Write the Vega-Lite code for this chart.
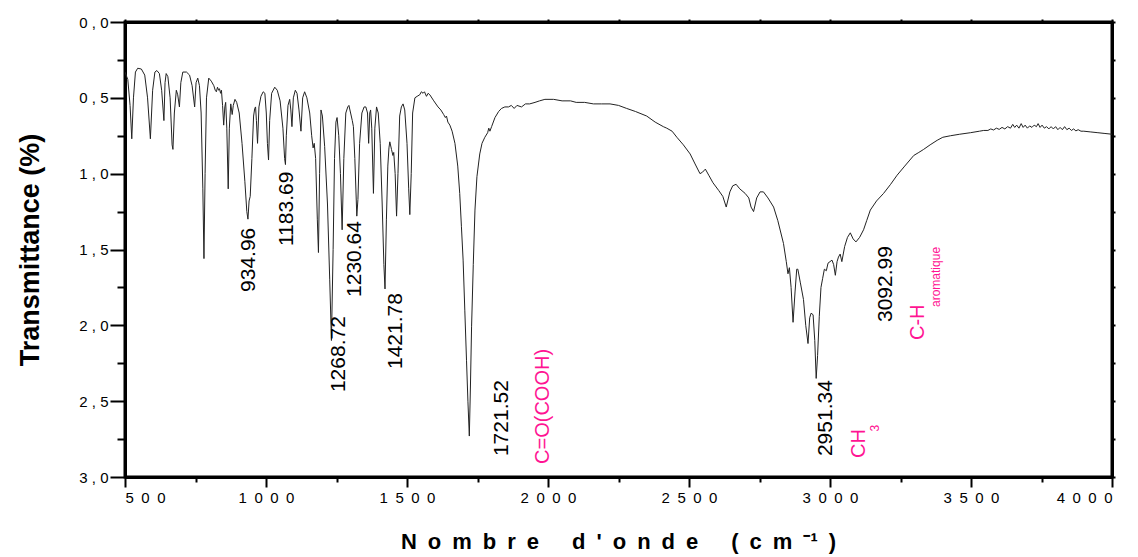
{
  "$schema": "https://vega.github.io/schema/vega-lite/v6.json",
  "autosize": "none",
  "width": 987,
  "height": 455,
  "padding": {"left": 125, "top": 22, "right": 26, "bottom": 80},
  "background": "white",
  "config": {
    "view": {"stroke": "black", "strokeWidth": 3},
    "font": "Liberation Sans",
    "axis": {"grid": false, "domainColor": "black", "domainWidth": 3, "tickColor": "black", "tickWidth": 2, "labelFont": "Liberation Sans", "titleFont": "Liberation Sans", "labelColor": "black", "titleColor": "black"}
  },
  "resolve": {"axis": {"x": "independent", "y": "independent"}},
  "layer": [
    {
      "data": {"values": [
        {"wn":500,"t":0.33},{"wn":510,"t":0.38},{"wn":518,"t":0.55},{"wn":524,"t":0.77},{"wn":530,"t":0.5},{"wn":537,"t":0.33},{"wn":545,"t":0.305},{"wn":558,"t":0.31},{"wn":570,"t":0.35},{"wn":580,"t":0.5},{"wn":590,"t":0.77},{"wn":598,"t":0.45},{"wn":606,"t":0.33},{"wn":613,"t":0.32},{"wn":622,"t":0.34},{"wn":630,"t":0.45},{"wn":638,"t":0.65},{"wn":642,"t":0.4},{"wn":646,"t":0.34},{"wn":652,"t":0.36},{"wn":660,"t":0.5},{"wn":667,"t":0.81},{"wn":670,"t":0.84},{"wn":675,"t":0.6},{"wn":682,"t":0.45},{"wn":687,"t":0.48},{"wn":693,"t":0.56},{"wn":698,"t":0.4},{"wn":705,"t":0.33},{"wn":718,"t":0.33},{"wn":729,"t":0.35},{"wn":738,"t":0.42},{"wn":747,"t":0.56},{"wn":752,"t":0.4},{"wn":758,"t":0.37},{"wn":764,"t":0.42},{"wn":770,"t":0.6},{"wn":776,"t":1.1},{"wn":780,"t":1.56},{"wn":784,"t":1.0},{"wn":789,"t":0.5},{"wn":797,"t":0.37},{"wn":806,"t":0.39},{"wn":815,"t":0.42},{"wn":820,"t":0.45},{"wn":824,"t":0.46},{"wn":828,"t":0.43},{"wn":832,"t":0.45},{"wn":835,"t":0.44},{"wn":839,"t":0.47},{"wn":842,"t":0.45},{"wn":846,"t":0.55},{"wn":850,"t":0.68},{"wn":854,"t":0.56},{"wn":857,"t":0.53},{"wn":861,"t":0.7},{"wn":866,"t":1.1},{"wn":870,"t":0.7},{"wn":875,"t":0.54},{"wn":878,"t":0.58},{"wn":880,"t":0.61},{"wn":884,"t":0.55},{"wn":890,"t":0.51},{"wn":896,"t":0.53},{"wn":905,"t":0.6},{"wn":915,"t":0.8},{"wn":925,"t":1.05},{"wn":932,"t":1.25},{"wn":936,"t":1.3},{"wn":940,"t":1.18},{"wn":944,"t":1.15},{"wn":950,"t":0.9},{"wn":956,"t":0.62},{"wn":960,"t":0.57},{"wn":963,"t":0.56},{"wn":966,"t":0.65},{"wn":970,"t":0.8},{"wn":975,"t":0.56},{"wn":982,"t":0.49},{"wn":990,"t":0.46},{"wn":996,"t":0.47},{"wn":1001,"t":0.6},{"wn":1005,"t":0.8},{"wn":1009,"t":0.91},{"wn":1013,"t":0.65},{"wn":1020,"t":0.47},{"wn":1031,"t":0.43},{"wn":1040,"t":0.45},{"wn":1050,"t":0.52},{"wn":1060,"t":0.7},{"wn":1066,"t":0.9},{"wn":1069,"t":0.94},{"wn":1072,"t":0.75},{"wn":1078,"t":0.55},{"wn":1084,"t":0.51},{"wn":1088,"t":0.58},{"wn":1092,"t":0.69},{"wn":1097,"t":0.5},{"wn":1104,"t":0.45},{"wn":1110,"t":0.47},{"wn":1117,"t":0.58},{"wn":1124,"t":0.72},{"wn":1130,"t":0.5},{"wn":1137,"t":0.46},{"wn":1145,"t":0.5},{"wn":1155,"t":0.6},{"wn":1162,"t":0.75},{"wn":1167,"t":0.83},{"wn":1171,"t":0.8},{"wn":1176,"t":0.9},{"wn":1182,"t":1.3},{"wn":1186,"t":1.52},{"wn":1190,"t":1.0},{"wn":1195,"t":0.58},{"wn":1200,"t":0.62},{"wn":1208,"t":0.82},{"wn":1218,"t":1.2},{"wn":1226,"t":1.7},{"wn":1232,"t":2.1},{"wn":1238,"t":1.5},{"wn":1243,"t":0.9},{"wn":1248,"t":0.66},{"wn":1252,"t":0.63},{"wn":1258,"t":0.75},{"wn":1264,"t":1.0},{"wn":1270,"t":1.37},{"wn":1276,"t":0.9},{"wn":1283,"t":0.6},{"wn":1290,"t":0.56},{"wn":1294,"t":0.55},{"wn":1300,"t":0.6},{"wn":1306,"t":0.65},{"wn":1310,"t":0.69},{"wn":1315,"t":0.9},{"wn":1322,"t":1.28},{"wn":1326,"t":1.17},{"wn":1332,"t":0.8},{"wn":1340,"t":0.6},{"wn":1348,"t":0.56},{"wn":1354,"t":0.56},{"wn":1360,"t":0.6},{"wn":1364,"t":0.8},{"wn":1368,"t":0.6},{"wn":1371,"t":0.58},{"wn":1375,"t":0.7},{"wn":1381,"t":1.13},{"wn":1386,"t":0.7},{"wn":1392,"t":0.56},{"wn":1398,"t":0.6},{"wn":1405,"t":0.8},{"wn":1412,"t":1.2},{"wn":1418,"t":1.6},{"wn":1422,"t":1.76},{"wn":1427,"t":1.3},{"wn":1432,"t":0.95},{"wn":1436,"t":0.83},{"wn":1439,"t":0.79},{"wn":1445,"t":0.84},{"wn":1450,"t":0.88},{"wn":1453,"t":0.86},{"wn":1458,"t":1.0},{"wn":1463,"t":1.28},{"wn":1468,"t":1.0},{"wn":1474,"t":0.62},{"wn":1480,"t":0.56},{"wn":1486,"t":0.54},{"wn":1492,"t":0.58},{"wn":1500,"t":0.8},{"wn":1506,"t":1.1},{"wn":1510,"t":1.27},{"wn":1515,"t":1.0},{"wn":1520,"t":0.6},{"wn":1528,"t":0.5},{"wn":1536,"t":0.49},{"wn":1545,"t":0.48},{"wn":1551,"t":0.46},{"wn":1557,"t":0.47},{"wn":1562,"t":0.46},{"wn":1569,"t":0.49},{"wn":1575,"t":0.47},{"wn":1581,"t":0.48},{"wn":1595,"t":0.52},{"wn":1610,"t":0.56},{"wn":1620,"t":0.58},{"wn":1630,"t":0.61},{"wn":1636,"t":0.63},{"wn":1640,"t":0.62},{"wn":1645,"t":0.66},{"wn":1652,"t":0.68},{"wn":1660,"t":0.72},{"wn":1670,"t":0.8},{"wn":1680,"t":0.95},{"wn":1687,"t":1.13},{"wn":1693,"t":1.35},{"wn":1699,"t":1.57},{"wn":1705,"t":1.9},{"wn":1711,"t":2.23},{"wn":1716,"t":2.5},{"wn":1721,"t":2.73},{"wn":1725,"t":2.4},{"wn":1729,"t":2.01},{"wn":1735,"t":1.6},{"wn":1741,"t":1.24},{"wn":1748,"t":1.02},{"wn":1758,"t":0.87},{"wn":1766,"t":0.8},{"wn":1776,"t":0.76},{"wn":1786,"t":0.73},{"wn":1790,"t":0.7},{"wn":1794,"t":0.72},{"wn":1800,"t":0.69},{"wn":1812,"t":0.63},{"wn":1825,"t":0.59},{"wn":1835,"t":0.57},{"wn":1847,"t":0.56},{"wn":1860,"t":0.56},{"wn":1870,"t":0.55},{"wn":1880,"t":0.57},{"wn":1890,"t":0.55},{"wn":1906,"t":0.56},{"wn":1920,"t":0.54},{"wn":1935,"t":0.54},{"wn":1954,"t":0.53},{"wn":1970,"t":0.52},{"wn":1989,"t":0.51},{"wn":2020,"t":0.51},{"wn":2050,"t":0.52},{"wn":2080,"t":0.52},{"wn":2100,"t":0.53},{"wn":2130,"t":0.53},{"wn":2161,"t":0.54},{"wn":2190,"t":0.54},{"wn":2220,"t":0.54},{"wn":2250,"t":0.55},{"wn":2279,"t":0.57},{"wn":2310,"t":0.59},{"wn":2350,"t":0.62},{"wn":2380,"t":0.66},{"wn":2409,"t":0.69},{"wn":2421,"t":0.7},{"wn":2440,"t":0.72},{"wn":2457,"t":0.76},{"wn":2480,"t":0.81},{"wn":2504,"t":0.87},{"wn":2520,"t":0.93},{"wn":2539,"t":1.0},{"wn":2548,"t":0.99},{"wn":2558,"t":0.97},{"wn":2570,"t":1.01},{"wn":2585,"t":1.06},{"wn":2605,"t":1.11},{"wn":2620,"t":1.15},{"wn":2632,"t":1.22},{"wn":2645,"t":1.12},{"wn":2655,"t":1.08},{"wn":2667,"t":1.07},{"wn":2680,"t":1.1},{"wn":2699,"t":1.13},{"wn":2712,"t":1.16},{"wn":2720,"t":1.22},{"wn":2729,"t":1.25},{"wn":2740,"t":1.16},{"wn":2752,"t":1.12},{"wn":2764,"t":1.12},{"wn":2780,"t":1.16},{"wn":2800,"t":1.22},{"wn":2815,"t":1.31},{"wn":2835,"t":1.46},{"wn":2845,"t":1.58},{"wn":2851,"t":1.66},{"wn":2856,"t":1.62},{"wn":2862,"t":1.75},{"wn":2869,"t":1.98},{"wn":2876,"t":1.78},{"wn":2882,"t":1.63},{"wn":2886,"t":1.63},{"wn":2895,"t":1.72},{"wn":2906,"t":1.83},{"wn":2914,"t":2.0},{"wn":2922,"t":2.12},{"wn":2928,"t":1.95},{"wn":2933,"t":1.92},{"wn":2940,"t":1.93},{"wn":2946,"t":2.1},{"wn":2951,"t":2.35},{"wn":2956,"t":2.2},{"wn":2962,"t":1.94},{"wn":2968,"t":1.75},{"wn":2974,"t":1.69},{"wn":2980,"t":1.63},{"wn":2987,"t":1.64},{"wn":2993,"t":1.59},{"wn":3000,"t":1.58},{"wn":3007,"t":1.57},{"wn":3013,"t":1.6},{"wn":3019,"t":1.67},{"wn":3025,"t":1.58},{"wn":3030,"t":1.55},{"wn":3036,"t":1.53},{"wn":3042,"t":1.58},{"wn":3052,"t":1.48},{"wn":3062,"t":1.42},{"wn":3072,"t":1.39},{"wn":3082,"t":1.43},{"wn":3092,"t":1.45},{"wn":3105,"t":1.42},{"wn":3119,"t":1.37},{"wn":3130,"t":1.31},{"wn":3143,"t":1.24},{"wn":3165,"t":1.18},{"wn":3190,"t":1.13},{"wn":3215,"t":1.07},{"wn":3238,"t":1.01},{"wn":3265,"t":0.95},{"wn":3297,"t":0.88},{"wn":3315,"t":0.86},{"wn":3332,"t":0.84},{"wn":3355,"t":0.81},{"wn":3380,"t":0.78},{"wn":3400,"t":0.76},{"wn":3427,"t":0.75},{"wn":3460,"t":0.74},{"wn":3498,"t":0.73},{"wn":3530,"t":0.72},{"wn":3545,"t":0.715},{"wn":3560,"t":0.715},{"wn":3570,"t":0.705},{"wn":3580,"t":0.712},{"wn":3590,"t":0.7},{"wn":3600,"t":0.708},{"wn":3610,"t":0.695},{"wn":3620,"t":0.705},{"wn":3630,"t":0.69},{"wn":3640,"t":0.7},{"wn":3648,"t":0.675},{"wn":3655,"t":0.695},{"wn":3662,"t":0.68},{"wn":3670,"t":0.7},{"wn":3678,"t":0.67},{"wn":3685,"t":0.695},{"wn":3692,"t":0.68},{"wn":3700,"t":0.7},{"wn":3708,"t":0.685},{"wn":3716,"t":0.695},{"wn":3724,"t":0.68},{"wn":3732,"t":0.69},{"wn":3738,"t":0.67},{"wn":3745,"t":0.695},{"wn":3752,"t":0.68},{"wn":3760,"t":0.7},{"wn":3768,"t":0.69},{"wn":3776,"t":0.705},{"wn":3784,"t":0.69},{"wn":3792,"t":0.705},{"wn":3800,"t":0.69},{"wn":3808,"t":0.71},{"wn":3816,"t":0.695},{"wn":3824,"t":0.71},{"wn":3832,"t":0.69},{"wn":3840,"t":0.71},{"wn":3848,"t":0.7},{"wn":3856,"t":0.715},{"wn":3864,"t":0.705},{"wn":3872,"t":0.718},{"wn":3880,"t":0.71},{"wn":3890,"t":0.72},{"wn":3900,"t":0.72},{"wn":3925,"t":0.725},{"wn":3950,"t":0.73},{"wn":3975,"t":0.735},{"wn":4000,"t":0.74}
      ]},
      "mark": {"type": "line", "color": "#222222", "strokeWidth": 1, "clip": true},
      "encoding": {
        "x": {"field": "wn", "type": "quantitative",
          "scale": {"domain": [500, 4000], "nice": false, "zero": false},
          "axis": {"orient": "bottom",
            "values": [500,1000,1500,2000,2500,3000,3500,4000],
            "labelExpr": "join(split(toString(datum.value), ''), '\u2002')",
            "labelOverlap": false, "labelFontSize": 15, "labelPadding": 3,
            "tickSize": 10,
            "title": "N\u2002o\u2002m\u2002b\u2002r\u2002e\u2003\u2002d\u2002'\u2002o\u2002n\u2002d\u2002e\u2003\u2002(\u2002c\u2002m\u2002\u207b\u00b9\u2002)",
            "titleFontSize": 22, "titleFontWeight": "bold",
            "titleX": 493, "titleY": 71, "titleAlign": "center", "titleBaseline": "alphabetic"}},
        "y": {"field": "t", "type": "quantitative",
          "scale": {"domain": [0, 3], "reverse": true, "nice": false, "zero": false},
          "axis": {"orient": "left",
            "values": [0,0.5,1,1.5,2,2.5,3],
            "labelExpr": "replace(format(datum.value, '.1f'), '.', ' , ')",
            "labelOverlap": false, "labelFontSize": 15, "labelPadding": 2,
            "tickSize": 15,
            "title": "Transmittance (%)", "titleFontSize": 27, "titleFontWeight": "bold",
            "titleX": -95, "titleY": 227.5, "titleAngle": 270, "titleAlign": "center", "titleBaseline": "middle"}}
      }
    },
    {
      "data": {"values": [
        {"wn": 938, "t": 1.78, "label": "934.96"},
        {"wn": 1073, "t": 1.477, "label": "1183.69"},
        {"wn": 1315, "t": 1.813, "label": "1230.64"},
        {"wn": 1258, "t": 2.44, "label": "1268.72"},
        {"wn": 1460, "t": 2.288, "label": "1421.78"},
        {"wn": 1836, "t": 2.862, "label": "1721.52"},
        {"wn": 2987, "t": 2.862, "label": "2951.34"},
        {"wn": 3199, "t": 1.978, "label": "3092.99"}
      ]},
      "mark": {"type": "text", "angle": 270, "align": "left", "baseline": "middle", "font": "Liberation Sans", "fontSize": 21, "color": "black"},
      "encoding": {
        "x": {"field": "wn", "type": "quantitative",
          "axis": {"orient": "bottom", "values": [750,1250,1750,2250,2750,3250,3750], "labels": false, "domain": false, "tickSize": 5, "title": null}},
        "y": {"field": "t", "type": "quantitative",
          "axis": {"orient": "left", "values": [0.25,0.75,1.25,1.75,2.25,2.75], "labels": false, "domain": false, "tickSize": 8, "title": null}},
        "text": {"field": "label"}
      }
    },
    {
      "data": {"values": [
        {"wn": 1982, "t": 2.914, "label": "C=O(COOH)"},
        {"wn": 3104, "t": 2.875, "label": "CH"},
        {"wn": 3313, "t": 2.097, "label": "C-H"}
      ]},
      "mark": {"type": "text", "angle": 270, "align": "left", "baseline": "middle", "font": "Liberation Sans", "fontSize": 20, "color": "#ff1493"},
      "encoding": {
        "x": {"field": "wn", "type": "quantitative",
          "axis": {"orient": "top", "values": [500,750,1000,1250,1500,1750,2000,2250,2500,2750,3000,3250,3500,3750,4000], "labels": false, "tickSize": 3, "title": null}},
        "y": {"field": "t", "type": "quantitative",
          "axis": {"orient": "right", "values": [0,0.25,0.5,0.75,1,1.25,1.5,1.75,2,2.25,2.5,2.75,3], "labels": false, "tickSize": 3, "title": null}},
        "text": {"field": "label"}
      }
    },
    {
      "data": {"values": [
        {"wn": 3160, "t": 2.7, "label": "3"},
        {"wn": 3377, "t": 1.879, "label": "aromatique"}
      ]},
      "mark": {"type": "text", "angle": 270, "align": "left", "baseline": "middle", "font": "Liberation Sans", "fontSize": 12, "color": "#ff1493"},
      "encoding": {
        "x": {"field": "wn", "type": "quantitative", "axis": null},
        "y": {"field": "t", "type": "quantitative", "axis": null},
        "text": {"field": "label"}
      }
    }
  ]
}
